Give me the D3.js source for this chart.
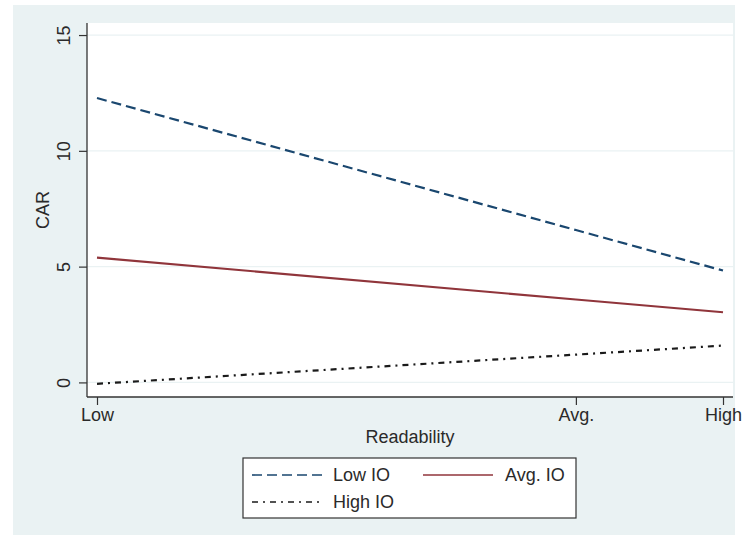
<!DOCTYPE html>
<html>
<head>
<meta charset="utf-8">
<script src="https://cdn.jsdelivr.net/npm/d3@7"></script>
<style>
  html, body { margin: 0; padding: 0; background: #ffffff; }
  svg { display: block; }
  text { font-family: "Liberation Sans", Arial, Helvetica, sans-serif; fill: #2a2a2a; }
</style>
</head>
<body>
<svg id="chart" width="747" height="539"></svg>
<script>
// ---- data ----
const xLabels = ["Low", "Avg.", "High"];
const xValues = [0, 0.765, 1];
const yTicks = [0, 5, 10, 15];
const seriesNames = ["Low IO", "Avg. IO", "High IO"];
const lowIO = [12.28, 6.58, 4.83];
const avgIO = [5.39, 3.58, 3.03];
const highIO = [-0.06, 1.20, 1.59];
const xTitle = "Readability";
const yTitle = "CAR";

// ---- layout ----
const svg = d3.select("#chart");
const plot = { left: 87, right: 733, top: 23, bottom: 397 };
const FS = 18;

svg.append("rect").attr("x", 13).attr("y", 5).attr("width", 722).attr("height", 530)
  .attr("fill", "#eaf2f3");
svg.append("rect").attr("x", plot.left).attr("y", plot.top)
  .attr("width", plot.right - plot.left).attr("height", plot.bottom - plot.top)
  .attr("fill", "#ffffff");

const x = d3.scaleLinear().domain([0, 1]).range([97, 723]);
const y = d3.scaleLinear().domain([-0.63, 15.52]).range([plot.bottom, plot.top]);

// grid lines
svg.append("g").selectAll("line").data(yTicks).join("line")
  .attr("x1", plot.left).attr("x2", plot.right)
  .attr("y1", d => y(d)).attr("y2", d => y(d))
  .attr("stroke", "#eaf2f3").attr("stroke-width", 1.2);

// y axis
const yAxis = d3.axisLeft(y).tickValues(yTicks).tickSize(8).tickPadding(6);
const gy = svg.append("g").attr("transform", `translate(${plot.left},0)`).call(yAxis);
gy.select(".domain").attr("stroke", "#333").attr("stroke-width", 1.3)
  .attr("d", `M0,${plot.top}V${plot.bottom}`);
gy.selectAll(".tick line").attr("stroke", "#333").attr("stroke-width", 1.2);
gy.selectAll(".tick text")
  .attr("font-size", FS).attr("fill", "#2a2a2a")
  .attr("font-family", '"Liberation Sans", Arial, sans-serif')
  .attr("transform", "translate(-23,0) rotate(-90)")
  .attr("x", 0).attr("dy", "0.35em")
  .attr("text-anchor", "middle");

// x axis
const xAxis = d3.axisBottom(x).tickValues(xValues)
  .tickFormat((d, i) => xLabels[i]).tickSize(8).tickPadding(3);
const gx = svg.append("g").attr("transform", `translate(0,${plot.bottom})`).call(xAxis);
gx.select(".domain").attr("stroke", "#333").attr("stroke-width", 1.3)
  .attr("d", `M${plot.left},0H${plot.right}`);
gx.selectAll(".tick line").attr("stroke", "#333").attr("stroke-width", 1.2);
gx.selectAll(".tick text").attr("font-size", FS).attr("fill", "#2a2a2a")
  .attr("font-family", '"Liberation Sans", Arial, sans-serif');

// axis titles
svg.append("text").attr("x", (plot.left + plot.right) / 2).attr("y", 443)
  .attr("text-anchor", "middle").attr("font-size", FS).text(xTitle);
svg.append("text").attr("transform", `translate(49,${(plot.top + plot.bottom) / 2}) rotate(-90)`)
  .attr("text-anchor", "middle").attr("font-size", FS).text(yTitle);

// lines
const styles = [
  { color: "#1a476f", dash: "10,5", width: 2.2 },
  { color: "#90353b", dash: null, width: 2.2 },
  { color: "#1a1a1a", dash: "6,5,2,5", width: 2.2 }
];
const allSeries = [lowIO, avgIO, highIO];
const line = d3.line().x((d, i) => x(xValues[i])).y(d => y(d));
allSeries.forEach((s, k) => {
  svg.append("path").datum(s).attr("d", line)
    .attr("fill", "none").attr("stroke", styles[k].color)
    .attr("stroke-width", styles[k].width)
    .attr("stroke-dasharray", styles[k].dash);
});

// legend
const lg = svg.append("g");
lg.append("rect").attr("x", 243).attr("y", 458).attr("width", 333).attr("height", 60)
  .attr("fill", "#ffffff").attr("stroke", "#333").attr("stroke-width", 1.2);
const legPos = [
  { kx: 252, tx: 333, y: 475 },
  { kx: 423, tx: 505, y: 475 },
  { kx: 252, tx: 333, y: 502 }
];
seriesNames.forEach((name, k) => {
  const p = legPos[k];
  lg.append("line").attr("x1", p.kx).attr("x2", p.kx + 70)
    .attr("y1", p.y).attr("y2", p.y)
    .attr("stroke", styles[k].color).attr("stroke-width", 1.6)
    .attr("stroke-dasharray", styles[k].dash);
  lg.append("text").attr("x", p.tx).attr("y", p.y).attr("dy", "0.35em")
    .attr("font-size", FS).text(name);
});
</script>
</body>
</html>
